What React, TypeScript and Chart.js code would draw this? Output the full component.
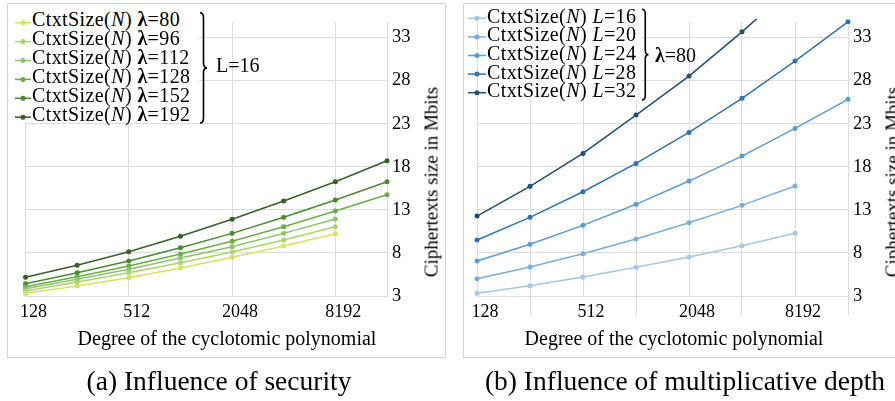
import React, { useEffect, useRef } from "react";
import { Chart, registerables } from "chart.js";
Chart.register(...registerables);

// ---------- data ----------
const DEGREES = [128, 256, 512, 1024, 2048, 4096, 8192, 16384];
const X_TICKS_A = [128, 512, 2048, 8192, 16384];
const X_TICKS_B = [128, 256, 512, 1024, 2048, 4096, 8192, 16384];
const X_LABELED = [128, 512, 2048, 8192];
const Y_TICKS = [3, 8, 13, 18, 23, 28, 33];
const Y_MIN = 3;
const Y_MAX = 34.8;

const LAMBDAS = [80, 96, 112, 128, 152, 192];
const SEC_80 = [3.31, 4.16, 5.12, 6.25, 7.49, 8.8, 10.23];
const SEC_96 = [3.58, 4.62, 5.7, 6.86, 8.1, 9.5, 11.04];
const SEC_112 = [3.85, 4.94, 6.1, 7.41, 8.72, 10.27, 11.93];
const SEC_128 = [4.08, 5.24, 6.48, 7.87, 9.35, 11.04, 12.86, 14.75];
const SEC_152 = [4.43, 5.7, 7.06, 8.6, 10.27, 12.13, 14.14, 16.26];
const SEC_192 = [5.17, 6.56, 8.14, 9.93, 11.9, 14.02, 16.26, 18.7];

const DEPTHS = [16, 20, 24, 28, 32];
const DEPTH_16 = [3.31, 4.2, 5.2, 6.33, 7.53, 8.84, 10.28];
const DEPTH_20 = [5.0, 6.36, 7.91, 9.61, 11.5, 13.52, 15.76];
const DEPTH_24 = [7.06, 9.0, 11.2, 13.64, 16.34, 19.24, 22.45, 25.82];
const DEPTH_28 = [9.5, 12.13, 15.1, 18.39, 21.99, 25.94, 30.26, 34.82];
const DEPTH_32 = [12.28, 15.73, 19.55, 24.0, 28.52, 33.66, 39.1, 45.0];

const SEC_SERIES = [SEC_80, SEC_96, SEC_112, SEC_128, SEC_152, SEC_192];
const DEPTH_SERIES = [DEPTH_16, DEPTH_20, DEPTH_24, DEPTH_28, DEPTH_32];

const GREENS = ["#d3e35f", "#a9d56b", "#8cc46c", "#6aad47", "#4b8b30", "#375f24"];
const BLUES = ["#a3c6e9", "#78ade0", "#5b9bd6", "#2e74b5", "#1f4e79"];

const FONT = "'Liberation Serif', 'Times New Roman', serif";
const GRID = "#dcdcdc";
const BOX = "#d4d4d4";

// ---------- chart ----------
type ChartProps = {
  left: number;
  top: number;
  width: number;
  height: number;
  series: number[][];
  colors: string[];
  xTicks: number[];
  padLeft: number;
  yWidth: number;
  minorTicks: boolean;
};

function LineChart(p: ChartProps) {
  const ref = useRef<HTMLCanvasElement>(null);
  useEffect(() => {
    const chart = new Chart(ref.current as HTMLCanvasElement, {
      type: "line",
      data: {
        datasets: p.series.map((vals, i) => ({
          data: vals.map((v, j) => ({ x: DEGREES[j], y: v })),
          borderColor: p.colors[i],
          backgroundColor: p.colors[i],
          borderWidth: 1.5,
          pointRadius: 2.5,
          pointBorderWidth: 0,
          pointHoverRadius: 2.5,
          tension: 0,
          fill: false,
          clip: 3,
        })),
      },
      options: {
        animation: false,
        responsive: false,
        devicePixelRatio: 1,
        events: [],
        layout: { padding: { left: p.padLeft, top: 19, right: 0, bottom: 0 } },
        plugins: {
          legend: { display: false },
          tooltip: { enabled: false },
          title: { display: false },
        },
        scales: {
          x: {
            type: "logarithmic",
            min: 128,
            max: 16384,
            afterBuildTicks: (s: any) => {
              s.ticks = p.xTicks.map((v) => ({ value: v }));
            },
            afterFit: (s: any) => {
              s.height = 62;
            },
            ticks: {
              autoSkip: false,
              maxRotation: 0,
              minRotation: 0,
              labelOffset: 8,
              padding: p.minorTicks ? -14 : 5,
              color: "#000",
              font: { family: FONT, size: 18 },
              callback: (v: any) => (X_LABELED.includes(Number(v)) ? String(v) : ""),
            },
            grid: {
              color: GRID,
              lineWidth: 1,
              drawTicks: p.minorTicks,
              tickLength: 19,
              tickColor: (ctx: any) =>
                ctx.tick && X_LABELED.includes(ctx.tick.value) ? "rgba(0,0,0,0)" : GRID,
            },
            border: { display: true, color: GRID },
          },
          y: {
            position: "right",
            min: Y_MIN,
            max: Y_MAX,
            afterBuildTicks: (s: any) => {
              s.ticks = Y_TICKS.map((v) => ({ value: v }));
            },
            afterFit: (s: any) => {
              s.width = p.yWidth;
            },
            ticks: {
              padding: 5,
              color: "#000",
              font: { family: FONT, size: 18.5 },
              callback: (v: any) => String(v),
            },
            grid: { color: GRID, lineWidth: 1, drawTicks: false },
            border: { display: true, color: GRID },
          },
        },
      } as any,
    });
    return () => chart.destroy();
  }, []);
  return (
    <canvas
      ref={ref}
      width={p.width}
      height={p.height}
      style={{ position: "absolute", left: p.left, top: p.top, width: p.width, height: p.height }}
    />
  );
}

// ---------- text helpers ----------
function Txt(props: {
  x: number;
  baseline: number;
  size: number;
  align?: "left" | "center";
  spacing?: number;
  children: React.ReactNode;
}) {
  const F = props.size;
  return (
    <div
      style={{
        position: "absolute",
        left: props.x,
        top: props.baseline - 0.8375 * F,
        fontSize: F,
        lineHeight: `${F}px`,
        whiteSpace: "nowrap",
        letterSpacing: props.spacing ? `${props.spacing}px` : undefined,
        transform: props.align === "center" ? "translateX(-50%)" : undefined,
        color: "#000",
      }}
    >
      {props.children}
    </div>
  );
}

function VTitle(props: { cx: number; cy: number; size: number; children: React.ReactNode }) {
  const F = props.size;
  return (
    <div
      style={{
        position: "absolute",
        left: props.cx,
        top: props.cy,
        fontSize: F,
        lineHeight: `${F}px`,
        whiteSpace: "nowrap",
        transform: "translate(-50%,-50%) rotate(-90deg)",
        color: "#000",
      }}
    >
      {props.children}
    </div>
  );
}

function bracePath(x0: number, y0: number, y1: number, w: number) {
  const ym = (y0 + y1) / 2;
  const xm = x0 + w / 2;
  const r = 5;
  return `M ${x0} ${y0} Q ${xm} ${y0} ${xm} ${y0 + r} L ${xm} ${ym - r} Q ${xm} ${ym} ${x0 + w} ${ym} Q ${xm} ${ym} ${xm} ${ym + r} L ${xm} ${y1 - r} Q ${xm} ${y1} ${x0} ${y1}`;
}

export default function App() {
  const secRows = LAMBDAS.map((l, i) => ({ lam: l, base: 25.7 + i * 19, my: 22.7 + i * 18.9 }));
  const depRows = DEPTHS.map((d, i) => ({ d, base: 22.5 + i * 18.6, my: 18.3 + i * 18.6 }));
  return (
    <div
      style={{
        position: "fixed",
        left: 0,
        top: 0,
        width: 895,
        height: 401,
        overflow: "hidden",
        background: "#fff",
        fontFamily: FONT,
      }}
    >
      <LineChart
        left={7}
        top={3}
        width={439}
        height={355}
        series={SEC_SERIES}
        colors={GREENS}
        xTicks={X_TICKS_A}
        padLeft={15}
        yWidth={59}
        minorTicks={false}
      />
      <LineChart
        left={463}
        top={3}
        width={439}
        height={355}
        series={DEPTH_SERIES}
        colors={BLUES}
        xTicks={X_TICKS_B}
        padLeft={14}
        yWidth={54}
        minorTicks={true}
      />
      {/* frames */}
      <div style={{ position: "absolute", left: 7, top: 3, width: 439, height: 355, border: `1px solid ${BOX}`, boxSizing: "border-box" }} />
      <div style={{ position: "absolute", left: 463, top: 3, width: 439, height: 355, border: `1px solid ${BOX}`, boxSizing: "border-box" }} />

      {/* legend backgrounds */}
      <div style={{ position: "absolute", left: 23, top: 6, width: 176, height: 117, background: "#fff" }} />
      <div style={{ position: "absolute", left: 478, top: 6, width: 164, height: 93, background: "#fff" }} />

      {/* legend markers and braces */}
      <svg width={895} height={401} style={{ position: "absolute", left: 0, top: 0 }}>
        {secRows.map((r, i) => (
          <g key={"s" + i}>
            <line x1={15} x2={31} y1={r.my} y2={r.my} stroke={GREENS[i]} strokeWidth={1.5} />
            <circle cx={23} cy={r.my} r={2.5} fill={GREENS[i]} />
          </g>
        ))}
        {depRows.map((r, i) => (
          <g key={"d" + i}>
            <line x1={468} x2={486} y1={r.my} y2={r.my} stroke={BLUES[i]} strokeWidth={1.5} />
            <circle cx={477} cy={r.my} r={2.5} fill={BLUES[i]} />
          </g>
        ))}
        <path d={bracePath(200, 12.7, 123, 7)} fill="none" stroke="#000" strokeWidth={1.6} />
        <path d={bracePath(642, 9.3, 100, 6.5)} fill="none" stroke="#000" strokeWidth={1.6} />
      </svg>

      {/* legend texts */}
      {secRows.map((r) => (
        <Txt key={"st" + r.lam} x={32} baseline={r.base} size={20} spacing={0.4}>
          CtxtSize(<i>N</i>) <b>λ</b>={r.lam}
        </Txt>
      ))}
      {depRows.map((r) => (
        <Txt key={"dt" + r.d} x={487} baseline={r.base} size={20} spacing={0.4}>
          CtxtSize(<i>N</i>) <i>L</i>={r.d}
        </Txt>
      ))}
      <Txt x={216} baseline={71.7} size={20}>
        L=16
      </Txt>
      <Txt x={655} baseline={61.7} size={20}>
        <b>λ</b>=80
      </Txt>

      {/* axis titles */}
      <Txt x={227} baseline={345} size={20} align="center">
        Degree of the cyclotomic polynomial
      </Txt>
      <Txt x={674} baseline={345} size={20} align="center">
        Degree of the cyclotomic polynomial
      </Txt>
      <VTitle cx={430.5} cy={182} size={19}>
        Ciphertexts size in Mbits
      </VTitle>
      <VTitle cx={891.5} cy={182} size={19}>
        Ciphertexts size in Mbits
      </VTitle>

      {/* captions */}
      <Txt x={219} baseline={390} size={27.5} align="center">
        (a) Influence of security
      </Txt>
      <Txt x={685} baseline={390} size={27.5} align="center">
        (b) Influence of multiplicative depth
      </Txt>
    </div>
  );
}
